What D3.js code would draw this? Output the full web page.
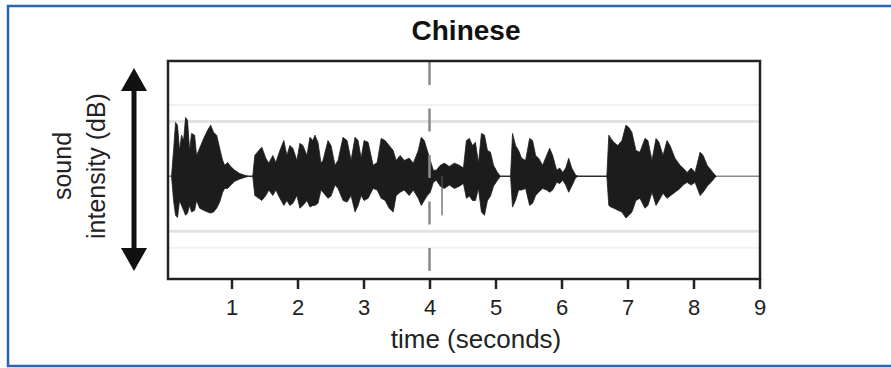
<!DOCTYPE html>
<html><head><meta charset="utf-8">
<script src="https://cdn.jsdelivr.net/npm/d3@7"></script>
<style>html,body{margin:0;padding:0;background:#fff;}svg{display:block;}</style>
</head><body>
<svg id="chart" width="891" height="368"></svg>
<script>
const titleText = "Chinese";
const xLabel = "time (seconds)";
const yLabelLines = ["sound", "intensity (dB)"];
const tickValues = [1, 2, 3, 4, 5, 6, 7, 8, 9];
const markerTime = [4];
const guideAmps = [1, -1];
const faintGuideAmps = [1.3, -1.3];

const timeSec = [0.091,0.122,0.152,0.182,0.213,0.243,0.274,0.304,0.334,0.365,0.395,0.441,0.471,0.517,0.578,0.638,0.684,0.729,0.775,0.821,0.866,0.897,0.942,0.988,1.049,1.125,1.201,1.261,
1.322,1.353,1.413,1.459,1.520,1.565,1.626,1.672,1.733,1.793,1.839,1.884,1.930,1.991,2.036,2.082,2.143,2.188,2.234,2.264,2.310,2.356,2.386,2.462,2.508,2.568,2.614,2.690,2.751,2.812,2.872,2.918,2.964,3.009,3.070,3.146,3.207,3.268,3.328,3.389,3.450,3.495,3.556,3.617,3.693,3.754,3.830,3.875,3.921,3.967,4.012,4.058,4.103,4.164,4.225,4.301,4.377,4.453,4.514,4.559,4.605,4.650,4.696,4.742,4.787,4.833,4.878,4.924,4.970,5.030,5.076,
5.228,5.258,5.304,5.350,5.395,5.456,5.517,5.562,5.608,5.653,5.714,5.775,5.821,5.866,5.927,5.973,6.018,6.064,6.109,6.155,6.216,6.261,
6.687,6.717,6.748,6.793,6.854,6.915,6.976,7.021,7.067,7.128,7.188,7.264,7.310,7.371,7.432,7.477,7.538,7.599,7.644,7.720,7.796,7.842,7.903,7.964,8.024,8.100,8.146,8.207,8.267,8.313,8.343];

const upperAmp = [0,0.47,0.98,0.93,0.47,0.75,0.65,1.07,1.02,0.47,0.78,0.75,0.38,0.51,0.69,0.84,0.93,0.80,0.75,0.51,0.29,0.20,0.25,0.18,0.11,0.05,0.02,0,
0,0.38,0.47,0.53,0.33,0.24,0.38,0.25,0.47,0.65,0.38,0.56,0.51,0.29,0.60,0.56,0.38,0.71,0.65,0.75,0.62,0.24,0.29,0.65,0.56,0.20,0.29,0.71,0.65,0.29,0.71,0.65,0.33,0.65,0.62,0.20,0.25,0.69,0.65,0.56,0.47,0.29,0.38,0.29,0.33,0.24,0.47,0.71,0.65,0.47,0.29,0.11,0.11,0.20,0.24,0.18,0.24,0.20,0.15,0.65,0.69,0.56,0.62,0.24,0.78,0.75,0.47,0.44,0.20,0.07,0,
0,0.78,0.56,0.47,0.33,0.29,0.69,0.65,0.38,0.33,0.20,0.38,0.51,0.38,0.11,0.15,0.07,0.15,0.33,0.15,0.02,0,
0,0.75,0.69,0.62,0.56,0.65,0.93,0.89,0.80,0.47,0.44,0.69,0.65,0.29,0.69,0.62,0.38,0.65,0.56,0.33,0.20,0.15,0.07,0.15,0.07,0.44,0.38,0.20,0.11,0.04,0];

const lowerAmp = [0,-0.44,-0.71,-0.75,-0.44,-0.53,-0.62,-0.71,-0.67,-0.53,-0.65,-0.62,-0.44,-0.58,-0.62,-0.65,-0.67,-0.65,-0.58,-0.47,-0.29,-0.22,-0.22,-0.16,-0.09,-0.05,-0.02,0,
0,-0.35,-0.40,-0.44,-0.35,-0.25,-0.35,-0.25,-0.40,-0.53,-0.44,-0.53,-0.49,-0.35,-0.58,-0.53,-0.44,-0.56,-0.53,-0.53,-0.49,-0.25,-0.29,-0.40,-0.36,-0.16,-0.22,-0.44,-0.47,-0.35,-0.65,-0.53,-0.35,-0.44,-0.40,-0.22,-0.25,-0.40,-0.44,-0.58,-0.65,-0.35,-0.29,-0.25,-0.35,-0.25,-0.40,-0.53,-0.44,-0.35,-0.29,-0.11,-0.07,-0.18,-0.22,-0.16,-0.22,-0.18,-0.13,-0.40,-0.36,-0.44,-0.44,-0.22,-0.65,-0.71,-0.44,-0.36,-0.18,-0.07,0,
0,-0.56,-0.44,-0.25,-0.25,-0.22,-0.53,-0.49,-0.35,-0.29,-0.22,-0.25,-0.29,-0.25,-0.11,-0.13,-0.07,-0.16,-0.29,-0.18,-0.02,0,
0,-0.53,-0.56,-0.58,-0.62,-0.65,-0.76,-0.71,-0.65,-0.44,-0.40,-0.58,-0.53,-0.29,-0.53,-0.44,-0.31,-0.40,-0.36,-0.29,-0.22,-0.16,-0.11,-0.16,-0.11,-0.35,-0.29,-0.18,-0.11,-0.04,0];

const spikeTime = [4.19];
const spikeLow = [-0.71];

const svg = d3.select("#chart");
const font = "'Liberation Sans', Arial, Helvetica, sans-serif";

// outer blue frame
svg.append("rect").attr("x", 8).attr("y", 6).attr("width", 900).attr("height", 360)
  .attr("fill", "none").attr("stroke", "#2a63b0").attr("stroke-width", 2.5);

const plot = {left: 168, right: 760, top: 61, bottom: 279};
const x = d3.scaleLinear().domain([0, 9]).range([165.5, 759.5]);
const y = d3.scaleLinear().domain([-1.87, 2.1]).range([plot.bottom, plot.top]);

const defs = svg.append("defs");
defs.append("filter").attr("id", "soft").append("feGaussianBlur").attr("stdDeviation", 0.55);
defs.append("clipPath").attr("id", "clip").append("rect")
  .attr("x", plot.left).attr("y", plot.top).attr("width", plot.right - plot.left).attr("height", plot.bottom - plot.top);

const g = svg.append("g").attr("clip-path", "url(#clip)");

// guide bands
g.selectAll(".faint").data(faintGuideAmps).join("line")
  .attr("x1", plot.left).attr("x2", plot.right).attr("y1", d => y(d)).attr("y2", d => y(d))
  .attr("stroke", "#f1f1f1").attr("stroke-width", 2);
g.selectAll(".guide").data(guideAmps).join("line")
  .attr("x1", plot.left).attr("x2", plot.right).attr("y1", d => y(d)).attr("y2", d => y(d))
  .attr("stroke", "#e2e2e2").attr("stroke-width", 3);

// center line
g.append("line").attr("x1", plot.left).attr("x2", plot.right).attr("y1", y(0)).attr("y2", y(0))
  .attr("stroke", "#8a8a8a").attr("stroke-width", 1.5);

// waveform envelope
const pts = timeSec.map((t, i) => ({t, up: upperAmp[i], lo: lowerAmp[i]}));
const area = d3.area().x(d => x(d.t)).y0(d => y(d.lo)).y1(d => y(d.up)).curve(d3.curveLinear);
const wave = g.append("g").attr("filter", "url(#soft)");
wave.append("path").datum(pts).attr("d", area).attr("fill", "#1e1e1e").attr("stroke", "#1e1e1e").attr("stroke-width", 0.8);
wave.selectAll(".spike").data(spikeTime).join("line")
  .attr("x1", d => x(d)).attr("x2", d => x(d)).attr("y1", y(0)).attr("y2", (d, i) => y(spikeLow[i]))
  .attr("stroke", "#555").attr("stroke-width", 1.2);

// dashed marker
g.selectAll(".marker").data(markerTime).join("line")
  .attr("x1", d => x(d)).attr("x2", d => x(d)).attr("y1", plot.top + 1).attr("y2", plot.bottom)
  .attr("stroke", "#8a8a8a").attr("stroke-width", 2.5).attr("stroke-dasharray", "23,23.5");

// plot frame
svg.append("rect").attr("x", plot.left).attr("y", plot.top)
  .attr("width", plot.right - plot.left).attr("height", plot.bottom - plot.top)
  .attr("fill", "none").attr("stroke", "#222").attr("stroke-width", 2.5);

// x axis
const axis = d3.axisBottom(x).tickValues(tickValues).tickSize(10).tickPadding(10).tickFormat(d3.format("d"));
const ax = svg.append("g").attr("transform", `translate(0,${plot.bottom})`).call(axis);
ax.select(".domain").remove();
ax.selectAll(".tick line").attr("stroke", "#222").attr("stroke-width", 2.5);
ax.selectAll(".tick text").attr("fill", "#222").style("font-family", font).style("font-size", "22px");

// x label
svg.append("text").attr("x", 476).attr("y", 348).attr("text-anchor", "middle")
  .style("font-family", font).style("font-size", "26px").attr("fill", "#222").text(xLabel);

// title
svg.append("text").attr("x", 466).attr("y", 40).attr("text-anchor", "middle")
  .style("font-family", font).style("font-size", "28px").style("font-weight", "bold").attr("fill", "#111").text(titleText);

// y label (rotated)
const yl = svg.append("text").attr("transform", "translate(0,166) rotate(-90)")
  .attr("text-anchor", "middle").style("font-family", font).style("font-size", "25px").attr("fill", "#222");
yl.selectAll("tspan").data(yLabelLines).join("tspan")
  .attr("x", 0).attr("y", (d, i) => i === 0 ? 71 : 105).text(d => d);

// double arrow
const ax0 = 134;
svg.append("line").attr("x1", ax0).attr("x2", ax0).attr("y1", 88).attr("y2", 250)
  .attr("stroke", "#111").attr("stroke-width", 5);
svg.append("path").attr("d", `M${ax0},68 L${ax0 + 13},91 L${ax0 - 13},91 Z`).attr("fill", "#111");
svg.append("path").attr("d", `M${ax0},271 L${ax0 + 13},248 L${ax0 - 13},248 Z`).attr("fill", "#111");
</script>
</body></html>
